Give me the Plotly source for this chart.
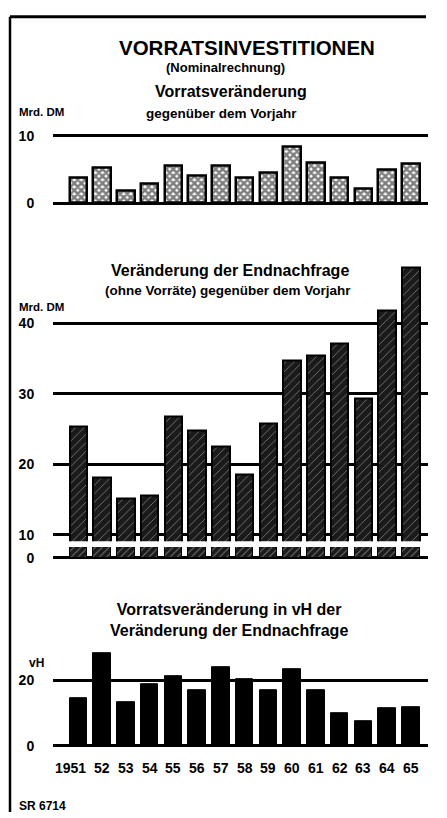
import plotly.graph_objects as go

# ---------------- data ----------------
years = ["1951", "52", "53", "54", "55", "56", "57", "58", "59", "60", "61", "62", "63", "64", "65"]
vorratsveraenderung = [3.7, 5.2, 1.9, 2.8, 5.6, 4.0, 5.5, 3.8, 4.5, 8.3, 6.0, 3.8, 2.2, 4.9, 5.85]
endnachfrage_veraenderung = [25.4, 18.1, 15.1, 15.5, 26.8, 24.8, 22.5, 18.6, 25.8, 34.8, 35.4, 37.1, 29.3, 41.9, 47.9]
anteil_vh = [14.6, 28.3, 13.3, 18.7, 21.3, 16.9, 24.1, 20.3, 16.9, 23.3, 16.9, 10.0, 7.5, 11.6, 11.8]

ticks_p1 = [0, 10]
ticks_p2 = [10, 20, 30, 40]
ticks_p3 = [0, 20]

# ---------------- layout helpers ----------------
W, H = 447, 818
FONT = "Liberation Sans, Arial, sans-serif"


def px(x):
    return x / W


def py(y):
    return 1 - y / H


XDOM = [px(53), px(428)]
XRANGE = [-1.07, 14.72]
BARW = 0.74

fig = go.Figure()

# Panel 1: Vorratsveränderung
fig.add_trace(go.Bar(
    x=years, y=vorratsveraenderung, width=BARW, xaxis="x", yaxis="y",
    marker=dict(color="white", line=dict(color="black", width=2.5),
                pattern=dict(shape="x", size=5, solidity=0.75, fgcolor="black", bgcolor="white")),
    showlegend=False, hoverinfo="x+y"))

# Panel 2 upper (broken axis)
fig.add_trace(go.Bar(
    x=years, y=endnachfrage_veraenderung, width=BARW, xaxis="x2", yaxis="y2",
    marker=dict(color="#1a1a1a", line=dict(color="black", width=2),
                pattern=dict(shape="/", size=6, solidity=0.15, fgcolor="#cfcfcf", bgcolor="#1a1a1a")),
    showlegend=False, hoverinfo="x+y"))

# Panel 2 lower stub (below axis break)
fig.add_trace(go.Bar(
    x=years, y=endnachfrage_veraenderung, width=BARW, xaxis="x3", yaxis="y3",
    marker=dict(color="#1a1a1a", line=dict(color="black", width=1),
                pattern=dict(shape="/", size=5, solidity=0.2, fgcolor="#cfcfcf", bgcolor="#1a1a1a")),
    showlegend=False, hoverinfo="skip"))

# Panel 3: vH
fig.add_trace(go.Bar(
    x=years, y=anteil_vh, width=BARW, xaxis="x4", yaxis="y4",
    marker=dict(color="black", line=dict(color="black", width=1)),
    showlegend=False, hoverinfo="x+y"))

tickfont = dict(family=FONT, size=14, color="black", weight="bold")


def xax(dom_anchor):
    return dict(domain=XDOM, range=XRANGE, type="category", anchor=dom_anchor,
                categoryorder="array", categoryarray=years,
                showgrid=False, zeroline=False, showline=False,
                showticklabels=False, ticks="", fixedrange=True)


def yax(anchor, y_bottom_px, y_top_px, rng, tickvals, show_labels=True):
    return dict(domain=[py(y_bottom_px), py(y_top_px)], range=rng, anchor=anchor,
                tickvals=tickvals, showgrid=True, gridcolor="black", gridwidth=2.5,
                zeroline=False, showline=False, showticklabels=show_labels,
                ticks="outside", ticklen=15, tickcolor="rgba(0,0,0,0)",
                tickfont=tickfont, fixedrange=True)


k1 = 6.83   # px per unit, panel 1 (0 -> 200 px)
k2 = 7.15   # px per unit, panel 2 (10 -> 536.7 px)
k3 = 3.32   # px per unit, panel 3 (0 -> 750.7 px)

fig.update_layout(
    width=W, height=H, margin=dict(l=0, r=0, t=0, b=0),
    paper_bgcolor="white", plot_bgcolor="rgba(0,0,0,0)",
    bargap=0, barmode="overlay",
    xaxis=xax("y"),
    yaxis=yax("x", 200 + 0.3 * k1, 200 - 10.3 * k1, [-0.3, 10.3], ticks_p1),
    xaxis2=xax("y2"),
    yaxis2=yax("x2", 536.7 + 0.9 * k2, 536.7 - 38.5 * k2, [9.1, 48.5], ticks_p2),
    xaxis3=xax("y3"),
    yaxis3=yax("x3", 562, 549, [-0.2, 1.1], [0]),
    xaxis4=xax("y4"),
    yaxis4=yax("x4", 750.7 + 0.6 * k3, 750.7 - 29.5 * k3, [-0.6, 29.5], ticks_p3),
    font=dict(family=FONT, color="black"),
)

# year labels under panel 3, placed on the category axis (by category index)
for i, yr in enumerate(years):
    fig.add_annotation(text=yr, x=i, xref="x4", y=py(773), yref="paper",
                       xanchor="center", yanchor="middle", showarrow=False,
                       xshift=-8 if i == 0 else 0,
                       font=dict(family=FONT, size=14, color="black", weight="bold"))

# frame lines (top and left)
fig.add_shape(type="line", xref="paper", yref="paper", x0=px(10), x1=px(426), y0=py(11), y1=py(11),
              line=dict(color="black", width=3))
fig.add_shape(type="line", xref="paper", yref="paper", x0=px(10), x1=px(10), y0=py(11), y1=py(818),
              line=dict(color="black", width=2.5))


def label(text, x, y, size, xanchor="center"):
    fig.add_annotation(text=text, x=px(x), y=py(y), xref="paper", yref="paper",
                       xanchor=xanchor, yanchor="middle", showarrow=False,
                       font=dict(family=FONT, size=size, color="black", weight="bold"))


label("VORRATSINVESTITIONEN", 247, 42, 20.5)
label("(Nominalrechnung)", 225, 62, 13)
label("Vorratsveränderung", 231, 87, 16)
label("gegenüber dem Vorjahr", 221, 109, 13.5)
label("Mrd. DM", 17, 108, 11.5, xanchor="left")

label("Veränderung der Endnachfrage", 230, 268, 16)
label("(ohne Vorräte) gegenüber dem Vorjahr", 228, 289, 13.5)
label("Mrd. DM", 17, 305, 11.5, xanchor="left")

label("Vorratsveränderung in vH der<br>Veränderung der Endnachfrage", 229, 623, 16)
label("vH", 27, 667, 12, xanchor="left")

label("SR 6714", 17, 812, 12, xanchor="left")

fig.write_html(
    "out.html", config={"displayModeBar": False},
    post_script=("document.documentElement.style.overflow='hidden';"
                 "document.body.style.margin='0';document.body.style.overflow='hidden';"
                 "var d=document.querySelector('.plotly-graph-div');"
                 "d.style.position='fixed';d.style.top='0px';d.style.left='0px';"))
